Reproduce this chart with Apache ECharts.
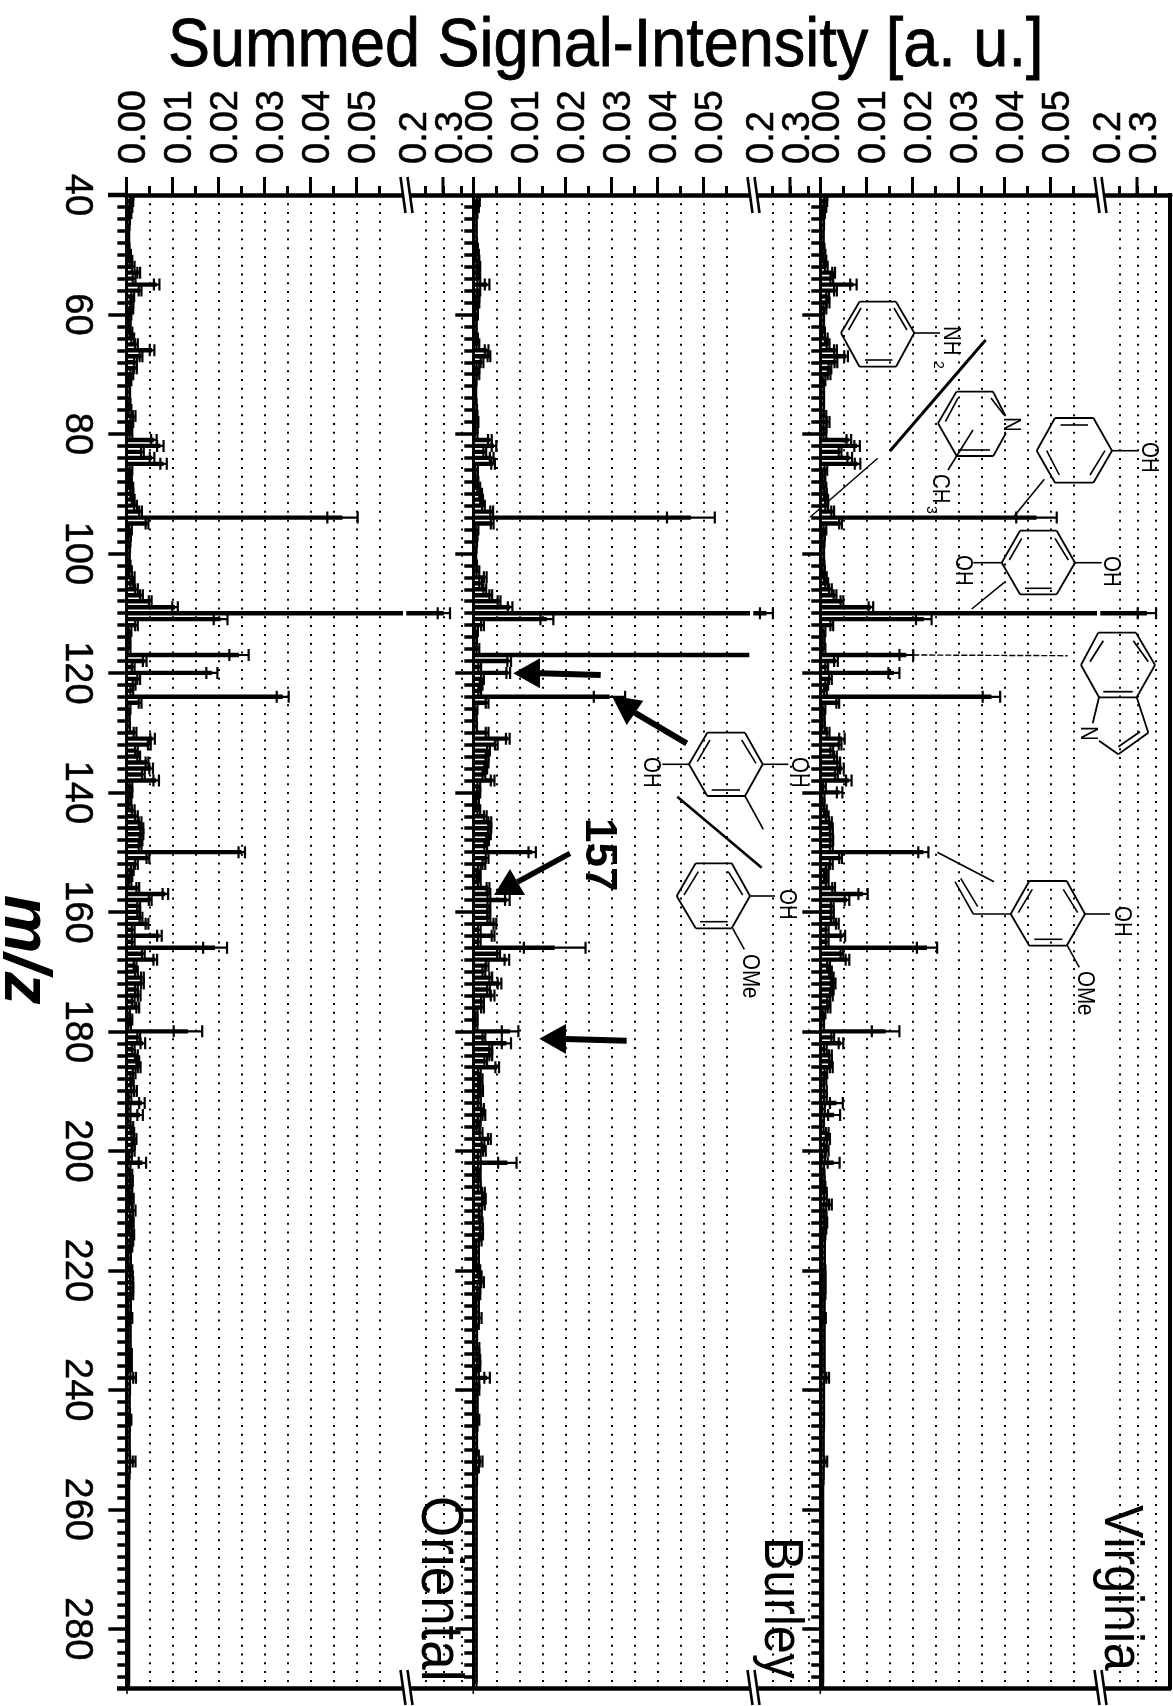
<!DOCTYPE html>
<html><head><meta charset="utf-8">
<style>html,body{margin:0;padding:0;background:#fff}#c{width:1173px;height:1706px}</style>
<script src="https://cdn.jsdelivr.net/npm/echarts@6/dist/echarts.min.js"></script>
</head><body><div id="c"></div>
<script>
// ---------- DATA: mean summed signal intensity for m/z 40, 41, 42 ... 289 ----------
const firstMz = 40;
const orientalValues = [
.0012,.0012,.0010,.0008,.0005,.0004,.0003,.0003,.0003,.0004,
.0007,.0010,.0015,.0027,.0017,.0066,.0030,.0014,.0012,.0012,
.0008,.0006,.0006,.0010,.0014,.0022,.0056,.0032,.0020,.0020,
.0012,.0008,.0005,.0005,.0005,.0006,.0008,.0017,.0012,.0008,
.0010,.0060,.0074,.0035,.0056,.0081,.0010,.0007,.0009,.0012,
.0012,.0015,.0020,.0031,.0470,.0045,.0009,.0007,.0006,.0005,
.0004,.0004,.0006,.0009,.0015,.0012,.0022,.0033,.0052,.0106,
.3015,.0205,.0022,.0008,.0006,.0005,.0006,.0245,.0040,.0015,
.0186,.0027,.0017,.0012,.0340,.0030,.0006,.0004,.0004,.0005,
.0019,.0057,.0050,.0022,.0027,.0045,.0054,.0037,.0065,.0010,
.0010,.0007,.0008,.0015,.0022,.0030,.0034,.0034,.0032,.0030,
.0251,.0047,.0022,.0013,.0010,.0008,.0025,.0085,.0052,.0027,
.0027,.0032,.0045,.0015,.0072,.0015,.0193,.0037,.0063,.0019,
.0022,.0035,.0035,.0022,.0028,.0015,.0025,.0005,.0010,.0007,
.0134,.0027,.0036,.0015,.0022,.0025,.0028,.0017,.0012,.0013,
.0020,.0008,.0034,.0006,.0030,.0006,.0012,.0014,.0019,.0015,
.0015,.0009,.0035,.0006,.0010,.0011,.0010,.0009,.0013,.0009,
.0017,.0011,.0013,.0009,.0014,.0012,.0010,.0007,.0007,.0007,
.0010,.0011,.0012,.0012,.0012,.0007,.0007,.0007,.0010,.0006,
.0006,.0006,.0006,.0006,.0009,.0006,.0009,.0006,.0018,.0005,
.0005,.0004,.0004,.0004,.0005,.0008,.0005,.0004,.0004,.0004,
.0004,.0005,.0017,.0005,.0004,.0003,.0003,.0003,.0003,.0003,
.0003,.0003,.0003,.0003,.0003,.0003,.0003,.0003,.0003,.0003,
.0003,.0003,.0003,.0003,.0003,.0003,.0003,.0003,.0003,.0003,
.0003,.0003,.0003,.0003,.0003,.0003,.0003,.0003,.0003,.0003];
const burleyValues = [
.0011,.0011,.0009,.0006,.0004,.0004,.0004,.0004,.0005,.0007,
.0009,.0010,.0012,.0010,.0012,.0030,.0012,.0010,.0010,.0007,
.0007,.0004,.0004,.0004,.0007,.0010,.0029,.0034,.0019,.0010,
.0010,.0004,.0003,.0003,.0003,.0004,.0005,.0006,.0008,.0006,
.0006,.0036,.0045,.0025,.0040,.0043,.0007,.0006,.0008,.0012,
.0016,.0018,.0022,.0040,.0473,.0041,.0008,.0006,.0005,.0004,
.0003,.0003,.0005,.0010,.0026,.0016,.0025,.0038,.0056,.0080,
.2337,.0160,.0020,.0007,.0005,.0004,.0010,.0600,.0078,.0014,
.0076,.0020,.0017,.0014,.0296,.0030,.0006,.0004,.0004,.0005,
.0030,.0075,.0050,.0033,.0030,.0030,.0027,.0023,.0042,.0012,
.0012,.0009,.0009,.0012,.0026,.0036,.0036,.0035,.0031,.0027,
.0128,.0030,.0023,.0013,.0010,.0013,.0032,.0034,.0074,.0034,
.0033,.0034,.0047,.0013,.0043,.0013,.0177,.0055,.0073,.0030,
.0023,.0038,.0057,.0033,.0042,.0020,.0020,.0006,.0006,.0006,
.0080,.0023,.0072,.0038,.0038,.0027,.0052,.0013,.0017,.0013,
.0018,.0013,.0013,.0020,.0023,.0013,.0010,.0017,.0035,.0021,
.0024,.0013,.0074,.0013,.0010,.0013,.0013,.0022,.0024,.0022,
.0015,.0015,.0017,.0018,.0018,.0015,.0009,.0009,.0009,.0009,
.0012,.0015,.0020,.0012,.0012,.0009,.0009,.0009,.0015,.0009,
.0005,.0005,.0005,.0010,.0010,.0012,.0012,.0009,.0030,.0010,
.0010,.0006,.0006,.0006,.0006,.0010,.0006,.0005,.0005,.0005,
.0005,.0009,.0017,.0009,.0005,.0005,.0004,.0004,.0004,.0004,
.0004,.0004,.0004,.0004,.0004,.0004,.0004,.0004,.0004,.0004,
.0004,.0004,.0004,.0004,.0004,.0004,.0004,.0004,.0004,.0004,
.0004,.0004,.0004,.0004,.0004,.0004,.0004,.0004,.0004,.0004];
const virginiaValues = [
.0012,.0012,.0010,.0007,.0005,.0005,.0004,.0004,.0004,.0006,
.0008,.0010,.0013,.0029,.0025,.0072,.0033,.0016,.0017,.0010,
.0005,.0005,.0005,.0007,.0013,.0017,.0033,.0056,.0034,.0021,
.0019,.0008,.0005,.0005,.0005,.0005,.0005,.0010,.0017,.0010,
.0010,.0062,.0080,.0043,.0064,.0081,.0012,.0007,.0008,.0010,
.0011,.0014,.0014,.0027,.0470,.0044,.0010,.0007,.0006,.0005,
.0005,.0005,.0006,.0007,.0011,.0014,.0022,.0032,.0047,.0110,
.3266,.0225,.0025,.0008,.0006,.0006,.0008,.0187,.0034,.0014,
.0160,.0022,.0014,.0011,.0372,.0038,.0008,.0006,.0006,.0007,
.0017,.0047,.0043,.0025,.0033,.0040,.0047,.0035,.0062,.0009,
.0042,.0006,.0006,.0011,.0015,.0022,.0024,.0024,.0025,.0024,
.0224,.0044,.0024,.0015,.0011,.0015,.0029,.0093,.0058,.0026,
.0026,.0026,.0037,.0015,.0049,.0015,.0232,.0047,.0059,.0018,
.0022,.0026,.0030,.0026,.0024,.0018,.0019,.0008,.0005,.0005,
.0142,.0027,.0045,.0011,.0022,.0022,.0024,.0012,.0010,.0005,
.0011,.0011,.0035,.0007,.0030,.0005,.0004,.0015,.0018,.0011,
.0015,.0007,.0029,.0005,.0006,.0006,.0008,.0011,.0011,.0022,
.0010,.0010,.0012,.0010,.0008,.0007,.0007,.0007,.0007,.0007,
.0008,.0008,.0008,.0008,.0008,.0006,.0006,.0006,.0009,.0006,
.0006,.0006,.0006,.0006,.0006,.0006,.0006,.0006,.0016,.0005,
.0005,.0005,.0005,.0005,.0005,.0005,.0005,.0004,.0004,.0004,
.0004,.0004,.0012,.0004,.0004,.0004,.0003,.0003,.0003,.0003,
.0003,.0003,.0003,.0003,.0003,.0003,.0003,.0003,.0003,.0003,
.0003,.0003,.0003,.0003,.0003,.0003,.0003,.0003,.0003,.0003,
.0003,.0003,.0003,.0003,.0003,.0003,.0003,.0003,.0003,.0003];
// error half-widths that could be read separately; every other m/z has typicalError
const typicalError = 0.0003;
const orientalErrMz = [55,66,81,82,84,85,94,109,110,111,117,118,120,124,131,136,138,150,157,164,166,168,180,182,192,194,202];
const orientalErr = [.0006,.0005,.0006,.0007,.0005,.0007,.0033,.0006,.0171,.0015,.0021,.0004,.0012,.0013,.0005,.0004,.0006,.0007,.0006,.0005,.0026,.0004,.0031,.0005,.0006,.0006,.0008];
const burleyErrMz = [55,66,81,82,84,85,94,109,110,111,117,118,120,124,131,138,150,158,164,166,168,172,174,180,182,186,202,238];
const burleyErr = [.0005,.0004,.0004,.0005,.0004,.0004,.0052,.0005,.0180,.0014,0,.0004,.0004,.0034,.0004,.0004,.0008,.0005,.0003,.0067,.0005,.0004,.0004,.0018,.0010,.0004,.0020,.0006];
const virginiaErrMz = [55,67,81,82,84,85,94,109,110,111,117,118,120,124,131,136,138,140,150,157,158,164,166,168,180,182,192,194,202];
const virginiaErr = [.0007,.0004,.0005,.0006,.0005,.0006,.0044,.0005,.0255,.0017,.0015,.0004,.0012,.0019,.0006,.0004,.0006,.0006,.0011,.0010,.0005,.0005,.0022,.0004,.0030,.0005,.0014,.0013,.0013];
// tick values
const lowMajorTicks = [0,.01,.02,.03,.04,.05];
const lowMinorTicks = [.005,.01,.015,.02,.025,.03,.035,.04,.045,.05,.055];
const highMajorTicks = [.2];
const highMinorTicks = [.25,.3,.35];
const highExtraLabels = [.3];
const mzLabels = [40,60,80,100,120,140,160,180,200,220,240,260,280];
const mzMajorTicks = [60,80,100,120,140,160,180,200,220,240,260,280];
const mzMinorTicks = [];
for (let m = 42; m < 290; m += 2) mzMinorTicks.push(m);

// ---------- LAYOUT ----------
const TOP = 195, BOTTOM_H = 1493.5;
const lowLeft = [126.3, 473.3, 820.3], LOW_W = 276, LOW_MAX = .06;
const HIGH_GAP = 280, HIGH_MIN = .1972, highW = [67, 67, 70], highMax = [.3833, .3833, .3916];
const FONT = '"Liberation Sans", Arial, sans-serif';
const panels = [[orientalValues,orientalErrMz,orientalErr],[burleyValues,burleyErrMz,burleyErr],[virginiaValues,virginiaErrMz,virginiaErr]];

function rows(p) {
  const [vals, emz, eval_] = panels[p];
  return vals.map((v, i) => {
    const m = firstMz + i, k = emz.indexOf(m);
    return [v, m, k >= 0 ? eval_[k] : typicalError];
  });
}
function renderBar(params, api) {
  const v = api.value(0), m = api.value(1), e = api.value(2);
  const cs = params.coordSys;
  const a = api.coord([v, m]), lo = api.coord([v - e, m]), hi = api.coord([v + e, m]);
  const kids = [{type:'rect', shape:{x:cs.x, y:a[1]-2.2, width:Math.max(a[0]-cs.x,0), height:4.4}, style:{fill:'#000'}}];
  if (e > 0) {
    const st = {stroke:'#000', lineWidth:2.2};
    kids.push({type:'line', shape:{x1:lo[0],y1:a[1],x2:hi[0],y2:a[1]}, style:st});
    kids.push({type:'line', shape:{x1:lo[0],y1:a[1]-6,x2:lo[0],y2:a[1]+6}, style:st});
    kids.push({type:'line', shape:{x1:hi[0],y1:a[1]-6,x2:hi[0],y2:a[1]+6}, style:st});
  }
  return {type:'group', children:kids};
}

const grid=[], xAxis=[], yAxis=[], series=[];
const dotted = {show:true, lineStyle:{color:'#000', width:2, type:[2,6.79], dashOffset:.6}};
function xLabel(values, digits) {
  return {show:values.length>0, customValues:values, showMinLabel:true, showMaxLabel:true, hideOverlap:false, rotate:-90, margin:31,
    verticalAlign:'top', lineHeight:16,
    color:'#000', fontFamily:FONT, fontSize:38, textBorderColor:'#000', textBorderWidth:.5,
    formatter:v=>v.toFixed(digits)};
}
function xPair(gi, min, max, major, minor, digits, extra) {
  xAxis.push({gridIndex:gi, type:'value', position:'top', min, max, silent:true,
    axisLine:{show:true, onZero:false, lineStyle:{color:'#000', width:4.5}},
    axisTick:{show:true, customValues:major, length:18, lineStyle:{color:'#000', width:3}},
    axisLabel:xLabel(major, digits),
    splitLine:{show:false}});
  xAxis.push({gridIndex:gi, type:'value', position:'top', min, max, silent:true,
    axisLine:{show:false},
    axisTick:{show:true, customValues:minor, length:9, lineStyle:{color:'#000', width:3}},
    axisLabel:xLabel(extra, digits), splitLine:dotted});
}
for (let p=0;p<3;p++){
  const gi = p*2;
  grid.push({left:lowLeft[p], top:TOP, width:LOW_W, height:BOTTOM_H, containLabel:false, outerBoundsMode:'none'});
  grid.push({left:lowLeft[p]+HIGH_GAP, top:TOP, width:highW[p], height:BOTTOM_H, containLabel:false, outerBoundsMode:'none'});
  xPair(gi, 0, LOW_MAX, lowMajorTicks, lowMinorTicks, 2, []);
  xPair(gi+1, HIGH_MIN, highMax[p], highMajorTicks, highMinorTicks, 1, highExtraLabels);
  const yLow = yAxis.length;
  yAxis.push({gridIndex:gi, type:'value', inverse:true, min:40, max:290, position:'left', silent:true,
    name: p===0 ? 'm/z' : '', nameLocation:'middle', nameRotate:-90, nameGap:51,
    nameTextStyle:{fontFamily:FONT, fontSize:66, fontStyle:'italic', fontWeight:'bold', color:'#000', padding:[0,0,0,16]},
    axisLine:{show:true, onZero:false, lineStyle:{color:'#000', width:3}},
    axisTick:{show:true, customValues:mzMajorTicks, length:18, lineStyle:{color:'#000', width:3.5}},
    axisLabel:{show:p===0, customValues:mzLabels, showMinLabel:true, rotate:-90, margin:31, color:'#000', fontFamily:FONT, fontSize:38, textBorderColor:'#000', textBorderWidth:.5},
    splitLine:{show:false}});
  yAxis.push({gridIndex:gi, type:'value', inverse:true, min:40, max:290, position:'left', silent:true,
    axisLine:{show:false},
    axisTick:{show:true, customValues:mzMinorTicks, length:9, lineStyle:{color:'#000', width:3.5}},
    axisLabel:{show:false}, splitLine:{show:false}});
  const yHigh = yAxis.length;
  yAxis.push({gridIndex:gi+1, type:'value', inverse:true, min:40, max:290, show:false, splitLine:{show:false}});
  const data = rows(p);
  const xLow = gi*2, xHigh = (gi+1)*2;
  series.push({type:'custom', name:['Oriental','Burley','Virginia'][p], xAxisIndex:xLow, yAxisIndex:yLow, clip:true, silent:true,
    encode:{x:0,y:1}, renderItem:renderBar, data, z:5});
  series.push({type:'custom', name:['Oriental','Burley','Virginia'][p]+' (upper range)', xAxisIndex:xHigh, yAxisIndex:yHigh, clip:true, silent:true,
    encode:{x:0,y:1}, renderItem:renderBar, data:data.filter(r=>r[0]>=HIGH_MIN), z:5});
}

// ---------- ANNOTATIONS ----------
const g = [];
const Z = 50;
function L(x1,y1,x2,y2,w,extra){ g.push({type:'line', z:Z, silent:true, shape:{x1,y1,x2,y2}, style:Object.assign({stroke:'#000', lineWidth:w||1.6}, extra||{})}); }
function poly(pts,style){ g.push({type:'polygon', z:Z, silent:true, shape:{points:pts}, style}); }
function ring(pts){ for(let i=0;i<pts.length;i++){const a=pts[i],b=pts[(i+1)%pts.length]; L(a[0],a[1],b[0],b[1],1.8);} }
function many(list,w){ list.forEach(s=>L(s[0],s[1],s[2],s[3],w||1.6)); }
function rt(x,y,text,size,opts){ g.push(Object.assign({type:'text', z:Z, silent:true, x, y, rotation:-Math.PI/2,
  style:{text, fontFamily:FONT, fontSize:size, fill:'#000', textAlign:'left', textVerticalAlign:'middle', fontWeight:(opts&&opts.weight)||'normal'}},
  opts&&opts.sy?{scaleY:opts.sy}:{})); }
function chem(x,y,text){ rt(x,y,text,20.5,{sy:1.2}); }
function arrow(tail,tip,h1,h2,w){ L(tail[0],tail[1],(h1[0]+h2[0])/2,(h1[1]+h2[1])/2,w); poly([tip,h1,h2],{fill:'#000'}); }

// title, spines and axis breaks
g.push({type:'text', z:Z, silent:true, x:168, y:47, scaleY:1.1, style:{text:'Summed Signal-Intensity [a. u.]', fontFamily:FONT, fontSize:63, fill:'#000', stroke:'#000', lineWidth:.8, textAlign:'left', textVerticalAlign:'middle'}});
L(108,195,128,195,4.5); L(117,1688.5,1171,1688.5,4.5); L(1170,193,1170,1690,4);
[127,473.3,820.3].forEach(x=>L(x,1688,x,1694,1.5));
[126.3,473.3,820.3].forEach(x=>{
  L(x+316.7,177,x+316.7,195,3); // long tick at 0.3
  [[177,213],[1670,1705]].forEach(([t,b])=>{
    const o=x-126.3;
    poly([[401.5+o,t],[407+o,t],[412+o,b],[406.5+o,b]],{fill:'#fff'});
    L(400.5+o,t,405.5+o,b,2.6); L(407.5+o,t,412.5+o,b,2.6);
  });
});
// panel names
rt(438,1496,'Oriental',53,{sy:1.12});
rt(780,1537,'Burley',50,{sy:1.12});
rt(1120,1505,'Virginia',50,{sy:1.12});
// aniline
ring([[859.5,301.7],[896,301.7],[914.3,333],[896,366.7],[859.5,366.7],[841,333]]);
many([[861,308,848.5,330],[894,308,907,330],[865,360,892.4,360],[914,333,940,333]]);
chem(951,326,'NH'); rt(938,361,'2',14);
L(985.6,340,890,451,3); L(877.7,458.3,810,517.3,1.5);
// methylpyridine
many([[956.4,391.7,993,391.7],[993,391.7,1005,415],[993.3,456,1006,433],[993.3,456,956.7,456],[956.7,456,938,423.3],[938,423.3,956.4,391.7]],1.8);
many([[958,398,945.4,421.7],[991,398,1004,415],[960,450,990,450],[956.7,456,948,470],[973,430,956.7,456]]);
chem(1011,417,'N'); chem(940,474,'CH'); rt(931,506,'3',14);
// phenol
ring([[1055,418],[1093.4,418],[1112,450.7],[1093.4,482.7],[1055,482.7],[1036.7,450.7]]);
many([[1046.7,450.7,1059.3,475],[1105,450.7,1090,475],[1060.5,425,1088,425],[1112,450.7,1138,450.7],[1044.3,479.3,1013.3,517.3]]);
chem(1149,442,'OH');
// hydroquinone
ring([[1020,530.7],[1056.7,530.7],[1075,562.7],[1056.7,594.3],[1020,594.3],[1001.7,562.7]]);
many([[1021.7,538.3,1009.3,560],[1055,538.3,1068.3,560],[1025,588.3,1051.7,588.3],[1075,562.7,1101.7,562.7],[973.3,562.7,1001.7,562.7],[1004,582.7,971.7,609]]);
chem(1111,556,'OH'); chem(962.5,555,'OH');
// indole
ring([[1098.3,632.7],[1136,632.7],[1155,665],[1136.7,697.3],[1099,697.3],[1081,665]]);
many([[1103.3,640.7,1090,661.7],[1133.3,640.7,1148.3,661.7],[1103.3,691.7,1132.7,691.7],[1136.7,697.3,1148.3,732.7],[1148.3,732.7,1118.3,754.3],[1118.3,754.3,1099,740.7],[1099,697.3,1092.7,723.3],[1140,731.7,1118.3,746.7]],1.8);
chem(1087.5,726,'N');
L(913.3,655,1067.7,655.7,1.4,{lineDash:[6,2]});
// methyl-hydroquinone
ring([[707.3,732.7],[745,732.7],[762.7,764.3],[745,796],[707.3,796],[689,764.3]]);
many([[710,740,697.3,761.7],[741.7,740,756,763.3],[711.7,790,740,790],[762.7,764.3,788.3,764.3],[662.3,764.3,689,764.3],[745,796,763.3,829.3]]);
chem(799,757,'OH'); chem(651,757,'OH');
L(677.3,796.7,761.7,867.7,2.6);
// guaiacol
ring([[695.7,863.3],[731.7,863.3],[750,896],[731.7,928.3],[695.7,928.3],[676.7,896]]);
many([[698.3,871.7,684,895],[728.3,871.7,742.7,895],[700,921.7,727.7,921.7],[750,896,775,896],[732.7,928.3,744.3,949.3]]);
chem(787,889,'OH'); chem(750,954,'OMe');
// vinylguaiacol
ring([[1029.3,881],[1066.7,881],[1085,914],[1066.7,945.7],[1029.3,945.7],[1010.7,914]]);
many([[1032.3,889.3,1018.3,912.7],[1063.3,889.3,1077.7,912.7],[1034.3,939.3,1062.3,939.3],[1085,914,1110,914],[1067.3,945.7,1079.3,967.3],[1010.7,914,973.3,914],[973.3,914,955,881.7],[977.7,906.7,960.7,878.3],[937.3,852.3,994,881.7]]);
chem(1122,906,'OH'); chem(1085,971,'OMe');
// bold arrows and 157
arrow([600.7,675],[513.3,673.3],[540,658.3],[540,688.3],6);
arrow([686.7,743.3],[611.7,695.7],[643.3,700.7],[626.7,725],6);
arrow([570,853.3],[494,895],[510,869],[525,895],5.5);
arrow([626.7,1040.7],[539.3,1038.7],[566,1024],[566,1054],6);
rt(598,818,'157',44,{weight:'bold'});

const chart = echarts.init(document.getElementById('c'), null, {renderer:'canvas', width:1173, height:1706});
chart.setOption({animation:false, backgroundColor:'#fff', tooltip:{show:false}, grid, xAxis, yAxis, series, graphic:{elements:g}});
</script></body></html>
